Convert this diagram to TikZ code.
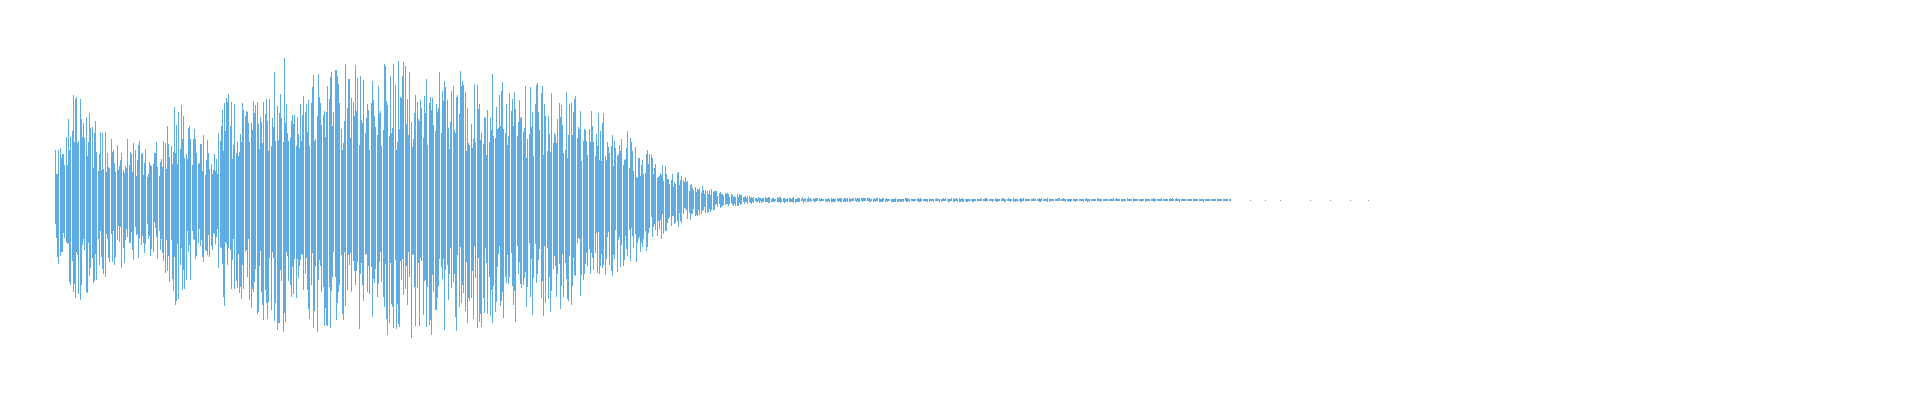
\documentclass[tikz,border=0pt]{standalone}
\definecolor{wave}{RGB}{94,172,226}
\begin{document}
\begin{tikzpicture}[x=1pt,y=1pt,wl/.style={draw=wave,line width=0.6pt}]
\useasboundingbox (0,0) rectangle (1920,400);
\pgfmathsetseed{7}
\foreach \xa/\aa/\xb/\ab in {55/55/75/110,75/110/100/80,100/80/130/65,130/65/160/60,160/60/175/105,175/105/200/70,200/70/215/55,215/55/225/110,225/110/240/100,240/100/260/120,260/120/285/145,285/145/300/125,300/125/330/140,330/140/400/140,400/140/500/125,500/125/560/115,560/115/600/90,600/90/640/60,640/60/660/40,660/40/690/20,690/20/720/9,720/9/760/3,760/3/900/2,900/2/1230/1.5}{
  \pgfmathtruncatemacro{\n}{(\xb-\xa)/1.2}
  \foreach \i in {0,...,\n}{
    \pgfmathsetmacro{\x}{\xa+\i*1.2}
    \pgfmathsetmacro{\a}{\aa+(\ab-\aa)*\i/max(\n,1)}
    \pgfmathsetmacro{\u}{\a*(0.35+0.65*rnd)}
    \pgfmathsetmacro{\d}{\a*(0.35+0.65*rnd)}
    \draw[wl] (\x,200+\u) -- (\x,200-\d);
  }
}
\foreach \x in {1250,1265,1280,1310,1330,1350,1368}{\draw[wl] (\x,199.5) -- (\x,200.5);}
\end{tikzpicture}
\end{document}
